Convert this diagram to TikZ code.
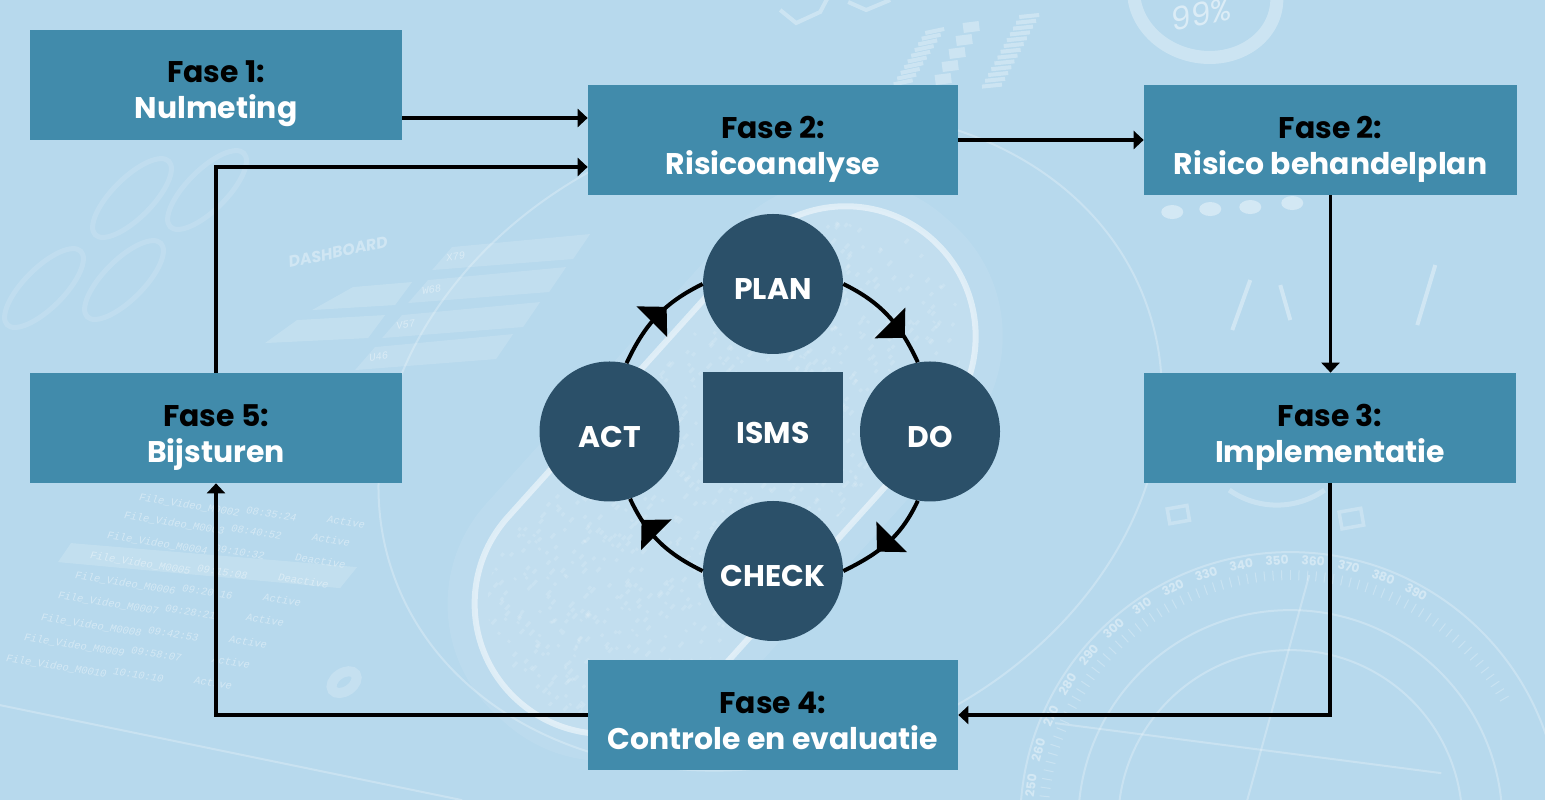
\documentclass[tikz,border=0pt]{standalone}
\usepackage{fontspec}
\setsansfont{Poppins}
\setmonofont{Liberation Mono}
\usepackage{tikz}
\usetikzlibrary{arrows.meta, positioning, decorations.markings}
\definecolor{PageBlue}{HTML}{B7D9ED}
\definecolor{FaseTeal}{HTML}{418BAB}
\definecolor{CycleNavy}{HTML}{2B5069}
\newcommand{\fasetext}[2]{\rule{0pt}{0.8cm}#1\\\textcolor{white}{#2}\rule[-0.13cm]{0pt}{0pt}}
\tikzset{
  fasebox/.style={rectangle, fill=FaseTeal, text=black, minimum width=7.44cm, minimum height=2.2cm, inner sep=0pt, font=\sffamily\bfseries\fontsize{17}{20.5}\selectfont, align=center},
  cyclenode/.style={circle, fill=CycleNavy, text=white, minimum size=2.8cm, inner sep=0pt, text height=0.64cm, font=\sffamily\bfseries\fontsize{17}{20}\selectfont},
  arrow/.style={-{Triangle[length=0.2cm, width=0.36cm]}, line width=0.07cm, black},
  cyclearrow/.style 2 args={line width=0.08cm, black, postaction={decorate}, decoration={markings, mark=at position #1 with {\pgftransformresetnontranslations\pgftransformrotate{#2}\arrow{Triangle[length=0.42cm, width=0.85cm]}}}},
  faint/.style={draw=white, opacity=0.25, line width=0.04cm},
  faintfill/.style={fill=white, opacity=0.16},
  fainttext/.style={text=white, opacity=0.4, font=\ttfamily\itshape\fontsize{6}{7}\selectfont, inner sep=0pt, anchor=west, rotate=-9}
}
\begin{document}
\begin{tikzpicture}
  \fill[PageBlue] (0,0) rectangle (30.9,16);
  \useasboundingbox (0,0) rectangle (30.9,16);

  % background, in reference pixels
  \begin{scope}[shift={(0,16)}, x=0.02cm, y=-0.02cm]
    % capsule
    \begin{scope}[shift={(725,470)}, rotate=48]
      \fill[white, opacity=0.08, rounded corners=3cm] (-335,-155) rectangle (335,155);
      \fill[white, opacity=0.1, rounded corners=2.6cm] (-310,-130) rectangle (310,130);
      \draw[white, opacity=0.5, line width=0.12cm, rounded corners=2.6cm] (-310,-130) rectangle (310,130);
      \clip[rounded corners=2.2cm] (-295,-115) rectangle (295,115);
      \pgfmathsetseed{7}
      \foreach \i in {1,...,900} {
        \fill[white, opacity=0.13] (-295+590*rnd,-115+230*rnd) rectangle ++(5*rnd+2,3);
      }
    \end{scope}
    \draw[faint, rotate around={20:(770,440)}] (770,440) ellipse (400 and 320);
    \draw[faint] (0,705) -- (462,800);
    % dashboard rows
    \foreach \x/\y/\n in {432/270/X79, 408/303/W68, 382/338/V57, 355/370/U46} {
      \fill[white, opacity=0.14] (\x,\y) -- ++(20,-23) -- ++(138,-13) -- ++(-17,25) -- cycle;
      \node[fainttext, rotate=18] at (\x+14,\y-12) {\n};
    }
    \fill[faintfill] (312,310) -- (353,287) -- (412,282) -- (395,305) -- cycle;
    \fill[faintfill] (265,343) -- (297,320) -- (385,315) -- (368,338) -- cycle;
    \node[text=white, opacity=0.35, font=\sffamily\bfseries\itshape\fontsize{9}{10}\selectfont, rotate=12] at (338,252) {DASHBOARD};
    % gauges
    \foreach \x/\y in {44/288, 124/280, 132/198, 207/190} {
      \draw[white, opacity=0.13, line width=0.1cm, rotate around={45:(\x,\y)}] (\x,\y) ellipse (52 and 20);
    }
    \draw[white, opacity=0.2, line width=0.2cm, rotate around={35:(344,682)}] (344,682) ellipse (14 and 9);
    % file list
    \fill[faintfill] (71,543) -- (357,567) -- (340,588) -- (58,562) -- cycle;
    \foreach \x/\y/\n/\t/\s in {139/497/2/08:35:24/Active, 124/515/3/08:40:52/Active, 107/535/4/09:10:32/Deactive, 90/555/5/09:15:08/Deactive, 75/575/6/09:20:16/Active, 58/595/7/09:28:21/Active, 41/617/8/09:42:53/Active, 24/637/9/09:58:07/Active} {
      \node[fainttext] at (\x,\y) {File\_Video\_M000\n};
      \node[fainttext] at (\x+107,\y+13) {\t};
      \node[fainttext] at (\x+188,\y+22) {\s};
    }
    \node[fainttext] at (6,658) {File\_Video\_M0010};
    \node[fainttext] at (113,671) {10:10:10};
    \node[fainttext] at (194,680) {Active};
    % dial
    \begin{scope}[shift={(1290,822)}]
      \foreach \r in {270, 212, 172} {
        \draw[faint] (0,0) circle (\r);
      }
      \foreach \a in {30,32,...,180} {
        \draw[white, opacity=0.25, line width=0.02cm] (-\a:252) -- (-\a:242);
      }
      \foreach \v in {250,260,...,390} {
        \pgfmathsetmacro{\ang}{85+(360-\v)*0.79}
        \node[text=white, opacity=0.4, inner sep=0pt, rotate=\ang-90, font=\sffamily\bfseries\fontsize{7}{8}\selectfont] at (-\ang:262) {\v};
      }
      \draw[faint] (19,-247) -- (-43,-22);
      \draw[faint] (-235,-99) -- (151,-49);
    \end{scope}
    % top right
    \draw[white, opacity=0.3, line width=0.26cm, rotate around={-12:(1205,-5)}] (1205,-5) ellipse (72 and 62);
    \node[text=white, opacity=0.5, rotate=12, font=\sffamily\itshape\fontsize{18}{20}\selectfont] at (1201,14) {99\%};
    \foreach \i in {0,...,9} {
      \draw[white, opacity=0.3, line width=0.08cm] (925-3.5*\i,33+5.7*\i) -- ++(19,-4);
    }
    \foreach \i in {0,...,12} {
      \draw[white, opacity=0.3, line width=0.08cm] (1019-3.1*\i,17+5.8*\i) -- ++(20,-2);
    }
    \foreach \i in {0,...,4} {
      \draw[white, opacity=0.3, line width=0.2cm] (963-7*\i,28+13*\i) -- ++(16,-2);
    }
    \draw[white, opacity=0.3, line width=0.08cm] (780,10) -- (796,23) -- (820,12) -- (829,-5);
    \draw[white, opacity=0.3, line width=0.08cm] (848,2) -- (866,10) -- (890,0);
    % pills, squares and strokes
    \foreach \x/\y in {1172/212, 1210/209, 1250/207, 1292/203} {
      \fill[white, opacity=0.4] (\x,\y) ellipse (11 and 7);
    }
    \draw[faint, line width=0.07cm, rotate around={10:(1178,514)}] (1168,507) rectangle (1188,522);
    \draw[faint, line width=0.07cm, rotate around={10:(1351,518)}] (1340,510) rectangle (1362,527);
    \draw[faint, line width=0.1cm] (1229,490) arc[start angle=125, end angle=55, radius=83];
    \foreach \x/\y/\u/\w in {1250/280/1232/330, 1280/285/1290/320, 1435/265/1417/325} {
      \draw[white, opacity=0.35, line width=0.08cm] (\x,\y) -- (\u,\w);
    }
  \end{scope}

  \node[fasebox] (fase1) at (4.32,14.3) {\fasetext{Fase 1:}{Nulmeting}};
  \node[fasebox, minimum width=7.4cm] (fase2) at (15.46,13.2) {\fasetext{Fase 2:}{Risicoanalyse}};
  \node[fasebox, minimum width=7.46cm] (plan2) at (26.61,13.2) {\fasetext{Fase 2:}{Risico behandelplan}};
  \node[fasebox] (fase3) at (26.6,7.44) {\fasetext{Fase 3:}{Implementatie}};
  \node[fasebox, minimum width=7.4cm] (fase4) at (15.46,1.7) {\fasetext{Fase 4:}{Controle en evaluatie}};
  \node[fasebox] (fase5) at (4.32,7.44) {\fasetext{Fase 5:}{Bijsturen}};

  \node[cyclenode] (plan) at (15.46,10.32) {PLAN};
  \node[cyclenode] (do) at (18.6,7.37) {DO};
  \node[cyclenode] (check) at (15.46,4.58) {CHECK};
  \node[cyclenode] (act) at (12.19,7.37) {ACT};
  \node[rectangle, fill=CycleNavy, text=white, minimum width=2.8cm, minimum height=2.22cm, inner sep=0pt, text height=0.64cm, font=\sffamily\bfseries\fontsize{17}{20}\selectfont] (isms) at (15.46,7.45) {ISMS};

  \draw[arrow] ([yshift=-0.66cm]fase1.east) -- ([yshift=0.44cm]fase2.west);
  \draw[arrow] (fase5.north) |- ([yshift=-0.54cm]fase2.west);
  \draw[arrow] (fase2) -- (plan2);
  \draw[arrow] (plan2) -- (plan2 |- fase3.north);
  \draw[arrow] (fase3.south) |- (fase4.east);
  \draw[arrow] (fase4.west) -| (fase5.south);

  \draw[cyclearrow={0.75}{-45}] (plan.0) to[out=-26, in=115] (do.100);
  \draw[cyclearrow={0.63}{-135}] (do.-100) to[out=-115, in=26] (check.0);
  \draw[cyclearrow={0.77}{135}] (check.180) to[out=154, in=-65] (act.-73);
  \draw[cyclearrow={0.62}{45}] (act.76) to[out=65, in=-154] (plan.180);
\end{tikzpicture}
\end{document}
